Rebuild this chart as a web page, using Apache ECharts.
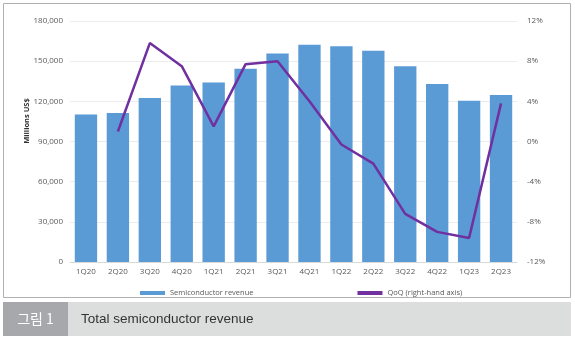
<!DOCTYPE html>
<html><head><meta charset="utf-8">
<script src="https://cdn.jsdelivr.net/npm/echarts@6/dist/echarts.min.js"></script>
<style>html,body{margin:0;padding:0;background:#fff;}#c{width:575px;height:339px;}</style>
</head><body><div id="c"></div>
<script>
const categories = ['1Q20','2Q20','3Q20','4Q20','1Q21','2Q21','3Q21','4Q21','1Q22','2Q22','3Q22','4Q22','1Q23','2Q23'];
const revenue = [110200, 111200, 122500, 131800, 134000, 144300, 155800, 162200, 161200, 157700, 146200, 133000, 120500, 124700];
const qoq = [null, 1.0, 9.8, 7.5, 1.5, 7.7, 8.0, 4.0, -0.3, -2.2, -7.2, -9.0, -9.6, 3.8];
const leftTicks = [0, 30000, 60000, 90000, 120000, 150000, 180000];
const rightTicks = [-12, -8, -4, 0, 4, 8, 12];
const yTitle = 'Millions US$';
const captionNum = '그림 1';
const captionText = 'Total semiconductor revenue';

const chart = echarts.init(document.getElementById('c'), null, {renderer:'canvas'});
const lab = {color:'#595959', fontSize:8, fontFamily:'Open Sans'};
chart.setOption({
  animation:false,
  grid:{left:70, right:58, top:21, bottom:77},
  legend:{
    top:284, left:135, itemGap:104, itemWidth:25, itemHeight:4,
    textStyle:{color:'#595959', fontSize:7.5, fontFamily:'Open Sans'},
    data:[{name:'Semiconductor revenue', icon:'rect'},{name:'QoQ (right-hand axis)', icon:'rect'}]
  },
  xAxis:{type:'category', data:categories,
    axisLine:{lineStyle:{color:'#d9d9d9'}}, axisTick:{show:false},
    axisLabel:Object.assign({margin:6}, lab)},
  yAxis:[
    {type:'value', min:leftTicks[0], max:leftTicks[leftTicks.length-1], interval:30000,
     axisLabel:Object.assign({margin:7, formatter:v=>v.toLocaleString('en-US')}, lab),
     splitLine:{lineStyle:{color:'#ececec'}}},
    {type:'value', min:rightTicks[0], max:rightTicks[rightTicks.length-1], interval:4,
     axisLabel:Object.assign({margin:10, formatter:v=>v+'%'}, lab),
     splitLine:{show:false}}
  ],
  series:[
    {name:'Semiconductor revenue', type:'bar', data:revenue, barCategoryGap:'30%',
     itemStyle:{color:'#5b9bd5'}},
    {name:'QoQ (right-hand axis)', type:'line', yAxisIndex:1, data:qoq, symbol:'none',
     lineStyle:{color:'#7030a0', width:2.5}, itemStyle:{color:'#7030a0'}}
  ],
  graphic:[
    {type:'rect', shape:{x:3.5, y:3.5, width:567, height:294}, style:{fill:'none', stroke:'#b0b0b0', lineWidth:1}, z:-1},
    {type:'text', x:27, y:121, rotation:Math.PI/2, style:{text:yTitle, fill:'#333', fontSize:7.5, fontWeight:'bold', fontFamily:'Open Sans', align:'center', verticalAlign:'middle'}},
    {type:'rect', shape:{x:3, y:302, width:65, height:34}, style:{fill:'#a6a8ab'}},
    {type:'rect', shape:{x:68, y:302, width:503, height:34}, style:{fill:'#dcdddd'}},
    {type:'text', x:35.5, y:319, style:{text:captionNum, fill:'#fff', fontSize:14, fontFamily:'Noto Sans CJK KR', align:'center', verticalAlign:'middle'}},
    {type:'text', x:81, y:319, style:{text:captionText, fill:'#333', fontSize:13.5, fontFamily:'Liberation Sans', align:'left', verticalAlign:'middle'}}
  ]
});
</script></body></html>
